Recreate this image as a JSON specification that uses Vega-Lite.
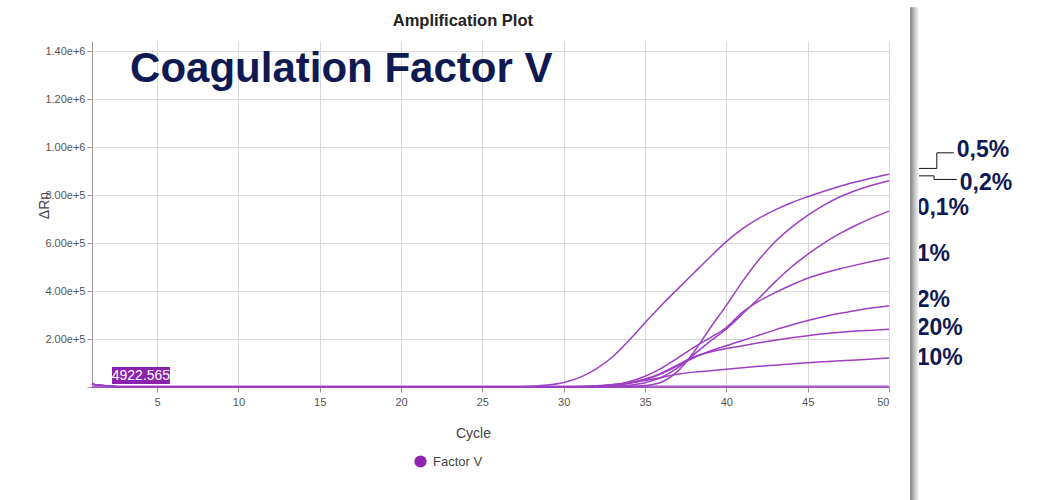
{
  "$schema": "https://vega.github.io/schema/vega-lite/v6.json",
  "width": 797,
  "height": 346,
  "autosize": {"type": "none"},
  "padding": {"left": 92, "top": 41, "right": 157, "bottom": 113},
  "background": "white",
  "config": {
    "view": {"stroke": null},
    "font": "Liberation Sans"
  },
  "encoding": {
    "x": {
      "field": "cycle",
      "type": "quantitative",
      "scale": {"domain": [1, 50], "nice": false, "zero": false},
      "axis": {
        "values": [5, 10, 15, 20, 25, 30, 35, 40, 45, 50],
        "grid": true,
        "gridColor": "#d9d9d9",
        "domainColor": "#999999",
        "tickColor": "#999999",
        "tickSize": 5,
        "labelFont": "Liberation Sans",
        "labelFontSize": 11,
        "labelColor": "#555555",
        "labelPadding": 4,
        "title": "Cycle",
        "titleFont": "Liberation Sans",
        "titleFontSize": 14,
        "titleFontWeight": "normal",
        "titleColor": "#444444",
        "titleX": 381,
        "titleY": 50,
        "titleBaseline": "alphabetic"
      }
    },
    "y": {
      "field": "drn",
      "type": "quantitative",
      "scale": {"domain": [0, 1442000], "nice": false},
      "axis": {
        "values": [0, 200000, 400000, 600000, 800000, 1000000, 1200000, 1400000],
        "labelExpr": "datum.value == 0 ? '' : format(datum.value, '.2e')",
        "grid": true,
        "gridColor": "#d9d9d9",
        "domainColor": "#999999",
        "tickColor": "#999999",
        "tickSize": 5,
        "labelFont": "Liberation Sans",
        "labelFontSize": 11,
        "labelColor": "#555555",
        "labelPadding": 2,
        "title": "ΔRn",
        "titleFont": "Liberation Sans",
        "titleFontSize": 14,
        "titleFontWeight": "normal",
        "titleColor": "#444444",
        "titleAngle": -90,
        "titleX": -48,
        "titleY": 164,
        "titleAlign": "center",
        "titleBaseline": "middle"
      }
    }
  },
  "layer": [
    {
      "data": {"values": [{"cycle": 1, "cycle2": 50, "drn": 4922.565}]},
      "mark": {"type": "rule", "color": "#cfa6e0", "strokeWidth": 1.5},
      "encoding": {"x2": {"field": "cycle2"}}
    },
    {
      "data": {"values": [
        {"sample": "NTC", "cycle": 1, "drn": 0},
        {"sample": "NTC", "cycle": 25, "drn": 0},
        {"sample": "NTC", "cycle": 50, "drn": 0},

        {"sample": "0,5%", "cycle": 1, "drn": 12000},
        {"sample": "0,5%", "cycle": 2, "drn": 4000},
        {"sample": "0,5%", "cycle": 3, "drn": 0},
        {"sample": "0,5%", "cycle": 10, "drn": 0},
        {"sample": "0,5%", "cycle": 20, "drn": 0},
        {"sample": "0,5%", "cycle": 25, "drn": 0},
        {"sample": "0,5%", "cycle": 26, "drn": 0},
        {"sample": "0,5%", "cycle": 27, "drn": 800},
        {"sample": "0,5%", "cycle": 28, "drn": 3000},
        {"sample": "0,5%", "cycle": 29, "drn": 8000},
        {"sample": "0,5%", "cycle": 30, "drn": 19000},
        {"sample": "0,5%", "cycle": 31, "drn": 40000},
        {"sample": "0,5%", "cycle": 32, "drn": 76000},
        {"sample": "0,5%", "cycle": 33, "drn": 125000},
        {"sample": "0,5%", "cycle": 34, "drn": 193000},
        {"sample": "0,5%", "cycle": 35, "drn": 268000},
        {"sample": "0,5%", "cycle": 36, "drn": 340000},
        {"sample": "0,5%", "cycle": 37, "drn": 408000},
        {"sample": "0,5%", "cycle": 38, "drn": 475000},
        {"sample": "0,5%", "cycle": 39, "drn": 542000},
        {"sample": "0,5%", "cycle": 40, "drn": 606000},
        {"sample": "0,5%", "cycle": 41, "drn": 660000},
        {"sample": "0,5%", "cycle": 42, "drn": 703000},
        {"sample": "0,5%", "cycle": 43, "drn": 738000},
        {"sample": "0,5%", "cycle": 44, "drn": 768000},
        {"sample": "0,5%", "cycle": 45, "drn": 793000},
        {"sample": "0,5%", "cycle": 46, "drn": 816000},
        {"sample": "0,5%", "cycle": 47, "drn": 837000},
        {"sample": "0,5%", "cycle": 48, "drn": 855000},
        {"sample": "0,5%", "cycle": 49, "drn": 872000},
        {"sample": "0,5%", "cycle": 50, "drn": 887000},

        {"sample": "0,2%", "cycle": 1, "drn": 12000},
        {"sample": "0,2%", "cycle": 2, "drn": 4000},
        {"sample": "0,2%", "cycle": 3, "drn": 0},
        {"sample": "0,2%", "cycle": 10, "drn": 0},
        {"sample": "0,2%", "cycle": 20, "drn": 0},
        {"sample": "0,2%", "cycle": 30, "drn": 0},
        {"sample": "0,2%", "cycle": 32, "drn": 0},
        {"sample": "0,2%", "cycle": 33, "drn": 500},
        {"sample": "0,2%", "cycle": 34, "drn": 2000},
        {"sample": "0,2%", "cycle": 35, "drn": 6000},
        {"sample": "0,2%", "cycle": 36, "drn": 20000},
        {"sample": "0,2%", "cycle": 37, "drn": 65000},
        {"sample": "0,2%", "cycle": 38, "drn": 145000},
        {"sample": "0,2%", "cycle": 39, "drn": 245000},
        {"sample": "0,2%", "cycle": 40, "drn": 340000},
        {"sample": "0,2%", "cycle": 41, "drn": 440000},
        {"sample": "0,2%", "cycle": 42, "drn": 530000},
        {"sample": "0,2%", "cycle": 43, "drn": 605000},
        {"sample": "0,2%", "cycle": 44, "drn": 665000},
        {"sample": "0,2%", "cycle": 45, "drn": 715000},
        {"sample": "0,2%", "cycle": 46, "drn": 758000},
        {"sample": "0,2%", "cycle": 47, "drn": 793000},
        {"sample": "0,2%", "cycle": 48, "drn": 820000},
        {"sample": "0,2%", "cycle": 49, "drn": 842000},
        {"sample": "0,2%", "cycle": 50, "drn": 860000},

        {"sample": "0,1%", "cycle": 1, "drn": 12000},
        {"sample": "0,1%", "cycle": 2, "drn": 4000},
        {"sample": "0,1%", "cycle": 3, "drn": 0},
        {"sample": "0,1%", "cycle": 10, "drn": 0},
        {"sample": "0,1%", "cycle": 20, "drn": 0},
        {"sample": "0,1%", "cycle": 30, "drn": 0},
        {"sample": "0,1%", "cycle": 32, "drn": 500},
        {"sample": "0,1%", "cycle": 33, "drn": 2000},
        {"sample": "0,1%", "cycle": 34, "drn": 7000},
        {"sample": "0,1%", "cycle": 35, "drn": 18000},
        {"sample": "0,1%", "cycle": 36, "drn": 40000},
        {"sample": "0,1%", "cycle": 37, "drn": 80000},
        {"sample": "0,1%", "cycle": 38, "drn": 135000},
        {"sample": "0,1%", "cycle": 39, "drn": 190000},
        {"sample": "0,1%", "cycle": 40, "drn": 242000},
        {"sample": "0,1%", "cycle": 41, "drn": 305000},
        {"sample": "0,1%", "cycle": 42, "drn": 370000},
        {"sample": "0,1%", "cycle": 43, "drn": 438000},
        {"sample": "0,1%", "cycle": 44, "drn": 500000},
        {"sample": "0,1%", "cycle": 45, "drn": 553000},
        {"sample": "0,1%", "cycle": 46, "drn": 600000},
        {"sample": "0,1%", "cycle": 47, "drn": 640000},
        {"sample": "0,1%", "cycle": 48, "drn": 675000},
        {"sample": "0,1%", "cycle": 49, "drn": 706000},
        {"sample": "0,1%", "cycle": 50, "drn": 733000},

        {"sample": "1%", "cycle": 1, "drn": 12000},
        {"sample": "1%", "cycle": 2, "drn": 4000},
        {"sample": "1%", "cycle": 3, "drn": 0},
        {"sample": "1%", "cycle": 10, "drn": 0},
        {"sample": "1%", "cycle": 20, "drn": 0},
        {"sample": "1%", "cycle": 29, "drn": 0},
        {"sample": "1%", "cycle": 30, "drn": 300},
        {"sample": "1%", "cycle": 31, "drn": 1000},
        {"sample": "1%", "cycle": 32, "drn": 3000},
        {"sample": "1%", "cycle": 33, "drn": 9000},
        {"sample": "1%", "cycle": 34, "drn": 22000},
        {"sample": "1%", "cycle": 35, "drn": 45000},
        {"sample": "1%", "cycle": 36, "drn": 78000},
        {"sample": "1%", "cycle": 37, "drn": 120000},
        {"sample": "1%", "cycle": 38, "drn": 165000},
        {"sample": "1%", "cycle": 39, "drn": 205000},
        {"sample": "1%", "cycle": 40, "drn": 248000},
        {"sample": "1%", "cycle": 41, "drn": 312000},
        {"sample": "1%", "cycle": 42, "drn": 358000},
        {"sample": "1%", "cycle": 43, "drn": 393000},
        {"sample": "1%", "cycle": 44, "drn": 425000},
        {"sample": "1%", "cycle": 45, "drn": 453000},
        {"sample": "1%", "cycle": 46, "drn": 475000},
        {"sample": "1%", "cycle": 47, "drn": 493000},
        {"sample": "1%", "cycle": 48, "drn": 509000},
        {"sample": "1%", "cycle": 49, "drn": 524000},
        {"sample": "1%", "cycle": 50, "drn": 538000},

        {"sample": "2%", "cycle": 1, "drn": 12000},
        {"sample": "2%", "cycle": 2, "drn": 4000},
        {"sample": "2%", "cycle": 3, "drn": 0},
        {"sample": "2%", "cycle": 10, "drn": 0},
        {"sample": "2%", "cycle": 20, "drn": 0},
        {"sample": "2%", "cycle": 29, "drn": 0},
        {"sample": "2%", "cycle": 30, "drn": 300},
        {"sample": "2%", "cycle": 31, "drn": 1000},
        {"sample": "2%", "cycle": 32, "drn": 3000},
        {"sample": "2%", "cycle": 33, "drn": 7000},
        {"sample": "2%", "cycle": 34, "drn": 15000},
        {"sample": "2%", "cycle": 35, "drn": 30000},
        {"sample": "2%", "cycle": 36, "drn": 55000},
        {"sample": "2%", "cycle": 37, "drn": 88000},
        {"sample": "2%", "cycle": 38, "drn": 122000},
        {"sample": "2%", "cycle": 39, "drn": 150000},
        {"sample": "2%", "cycle": 40, "drn": 172000},
        {"sample": "2%", "cycle": 41, "drn": 194000},
        {"sample": "2%", "cycle": 42, "drn": 216000},
        {"sample": "2%", "cycle": 43, "drn": 238000},
        {"sample": "2%", "cycle": 44, "drn": 258000},
        {"sample": "2%", "cycle": 45, "drn": 277000},
        {"sample": "2%", "cycle": 46, "drn": 293000},
        {"sample": "2%", "cycle": 47, "drn": 307000},
        {"sample": "2%", "cycle": 48, "drn": 319000},
        {"sample": "2%", "cycle": 49, "drn": 330000},
        {"sample": "2%", "cycle": 50, "drn": 339000},

        {"sample": "20%", "cycle": 1, "drn": 12000},
        {"sample": "20%", "cycle": 2, "drn": 4000},
        {"sample": "20%", "cycle": 3, "drn": 0},
        {"sample": "20%", "cycle": 10, "drn": 0},
        {"sample": "20%", "cycle": 20, "drn": 0},
        {"sample": "20%", "cycle": 29, "drn": 0},
        {"sample": "20%", "cycle": 30, "drn": 300},
        {"sample": "20%", "cycle": 31, "drn": 1000},
        {"sample": "20%", "cycle": 32, "drn": 3000},
        {"sample": "20%", "cycle": 33, "drn": 8000},
        {"sample": "20%", "cycle": 34, "drn": 17000},
        {"sample": "20%", "cycle": 35, "drn": 33000},
        {"sample": "20%", "cycle": 36, "drn": 58000},
        {"sample": "20%", "cycle": 37, "drn": 92000},
        {"sample": "20%", "cycle": 38, "drn": 125000},
        {"sample": "20%", "cycle": 39, "drn": 146000},
        {"sample": "20%", "cycle": 40, "drn": 160000},
        {"sample": "20%", "cycle": 41, "drn": 172000},
        {"sample": "20%", "cycle": 42, "drn": 184000},
        {"sample": "20%", "cycle": 43, "drn": 195000},
        {"sample": "20%", "cycle": 44, "drn": 205000},
        {"sample": "20%", "cycle": 45, "drn": 214000},
        {"sample": "20%", "cycle": 46, "drn": 222000},
        {"sample": "20%", "cycle": 47, "drn": 228000},
        {"sample": "20%", "cycle": 48, "drn": 233000},
        {"sample": "20%", "cycle": 49, "drn": 237000},
        {"sample": "20%", "cycle": 50, "drn": 241000},

        {"sample": "10%", "cycle": 1, "drn": 12000},
        {"sample": "10%", "cycle": 2, "drn": 4000},
        {"sample": "10%", "cycle": 3, "drn": 0},
        {"sample": "10%", "cycle": 10, "drn": 0},
        {"sample": "10%", "cycle": 20, "drn": 0},
        {"sample": "10%", "cycle": 28, "drn": 0},
        {"sample": "10%", "cycle": 29, "drn": 300},
        {"sample": "10%", "cycle": 30, "drn": 1000},
        {"sample": "10%", "cycle": 31, "drn": 2000},
        {"sample": "10%", "cycle": 32, "drn": 5000},
        {"sample": "10%", "cycle": 33, "drn": 10000},
        {"sample": "10%", "cycle": 34, "drn": 17000},
        {"sample": "10%", "cycle": 35, "drn": 27000},
        {"sample": "10%", "cycle": 36, "drn": 40000},
        {"sample": "10%", "cycle": 37, "drn": 53000},
        {"sample": "10%", "cycle": 38, "drn": 62000},
        {"sample": "10%", "cycle": 39, "drn": 68000},
        {"sample": "10%", "cycle": 40, "drn": 74000},
        {"sample": "10%", "cycle": 41, "drn": 80000},
        {"sample": "10%", "cycle": 42, "drn": 86000},
        {"sample": "10%", "cycle": 43, "drn": 91000},
        {"sample": "10%", "cycle": 44, "drn": 96000},
        {"sample": "10%", "cycle": 45, "drn": 101000},
        {"sample": "10%", "cycle": 46, "drn": 105000},
        {"sample": "10%", "cycle": 47, "drn": 109000},
        {"sample": "10%", "cycle": 48, "drn": 113000},
        {"sample": "10%", "cycle": 49, "drn": 117000},
        {"sample": "10%", "cycle": 50, "drn": 121000}
      ]},
      "mark": {"type": "line", "strokeWidth": 1.5, "interpolate": "monotone"},
      "encoding": {
        "detail": {"field": "sample", "type": "nominal"},
        "color": {
          "datum": "Factor V",
          "type": "nominal",
          "scale": {"range": ["#9d3fc3"]},
          "legend": {
            "title": null,
            "orient": "none",
            "legendX": 322,
            "legendY": 414,
            "symbolType": "circle",
            "symbolSize": 150,
            "symbolFillColor": "#8e26b0",
            "symbolStrokeColor": "#8e26b0",
            "symbolStrokeWidth": 0,
            "labelFont": "Liberation Sans",
            "labelFontSize": 13,
            "labelColor": "#444444",
            "labelOffset": 6
          }
        }
      }
    },
    {
      "data": {"values": [{"cycle": 2.23, "cycle2": 5.79, "drn": 12500, "drn2": 83300}]},
      "mark": {"type": "rect", "color": "#8a22ad"},
      "encoding": {"x2": {"field": "cycle2"}, "y2": {"field": "drn2"}}
    },
    {
      "data": {"values": [{"cycle": 4.01, "drn": 47900, "label": "4922.565"}]},
      "mark": {"type": "text", "color": "white", "font": "Liberation Sans", "fontSize": 14, "align": "center", "baseline": "middle"},
      "encoding": {"text": {"field": "label"}}
    },
    {
      "data": {"values": [{"cycle": 23.8, "drn": 1504000, "label": "Amplification Plot"}]},
      "mark": {"type": "text", "color": "#222222", "font": "Liberation Sans", "fontWeight": "bold", "fontSize": 16.5, "align": "center", "baseline": "alphabetic"},
      "encoding": {"text": {"field": "label"}}
    },
    {
      "data": {"values": [{"cycle": 3.34, "drn": 1272000, "label": "Coagulation Factor V"}]},
      "mark": {"type": "text", "color": "#101a52", "font": "Liberation Sans", "fontWeight": "bold", "fontSize": 42, "align": "left", "baseline": "alphabetic"},
      "encoding": {"text": {"field": "label"}}
    },
    {
      "data": {"values": [
        {"cycle": 54.17, "drn": 957000, "label": "0,5%"},
        {"cycle": 54.35, "drn": 821000, "label": "0,2%"},
        {"cycle": 51.7, "drn": 717000, "label": "0,1%"},
        {"cycle": 51.7, "drn": 525000, "label": "1%"},
        {"cycle": 51.7, "drn": 334600, "label": "2%"},
        {"cycle": 51.7, "drn": 216700, "label": "20%"},
        {"cycle": 51.7, "drn": 91700, "label": "10%"}
      ]},
      "mark": {"type": "text", "color": "#101a52", "font": "Liberation Sans", "fontWeight": "bold", "fontSize": 23, "align": "left", "baseline": "alphabetic"},
      "encoding": {"text": {"field": "label"}}
    },
    {
      "data": {"values": [
        {"link": "0,5%", "step": 1, "cycle": 51.4, "drn": 911000},
        {"link": "0,5%", "step": 2, "cycle": 52.94, "drn": 911000},
        {"link": "0,5%", "step": 3, "cycle": 52.94, "drn": 976000},
        {"link": "0,5%", "step": 4, "cycle": 53.98, "drn": 976000},
        {"link": "0,2%", "step": 1, "cycle": 51.4, "drn": 880000},
        {"link": "0,2%", "step": 2, "cycle": 52.77, "drn": 880000},
        {"link": "0,2%", "step": 3, "cycle": 52.77, "drn": 865000},
        {"link": "0,2%", "step": 4, "cycle": 54.17, "drn": 865000}
      ]},
      "mark": {"type": "line", "color": "#111111", "strokeWidth": 1},
      "encoding": {
        "detail": {"field": "link", "type": "nominal"},
        "order": {"field": "step", "type": "quantitative"}
      }
    },
    {
      "data": {"values": [{"cycle": 51.3, "cycle2": 51.85, "drn": -480000, "drn2": 1583000}]},
      "mark": {
        "type": "rect",
        "color": {
          "gradient": "linear",
          "x1": 0, "x2": 1, "y1": 0, "y2": 0,
          "stops": [
            {"offset": 0, "color": "#7a7a7a"},
            {"offset": 0.35, "color": "#b0b0b0"},
            {"offset": 1, "color": "#ffffff"}
          ]
        }
      },
      "encoding": {"x2": {"field": "cycle2"}, "y2": {"field": "drn2"}}
    }
  ]
}
